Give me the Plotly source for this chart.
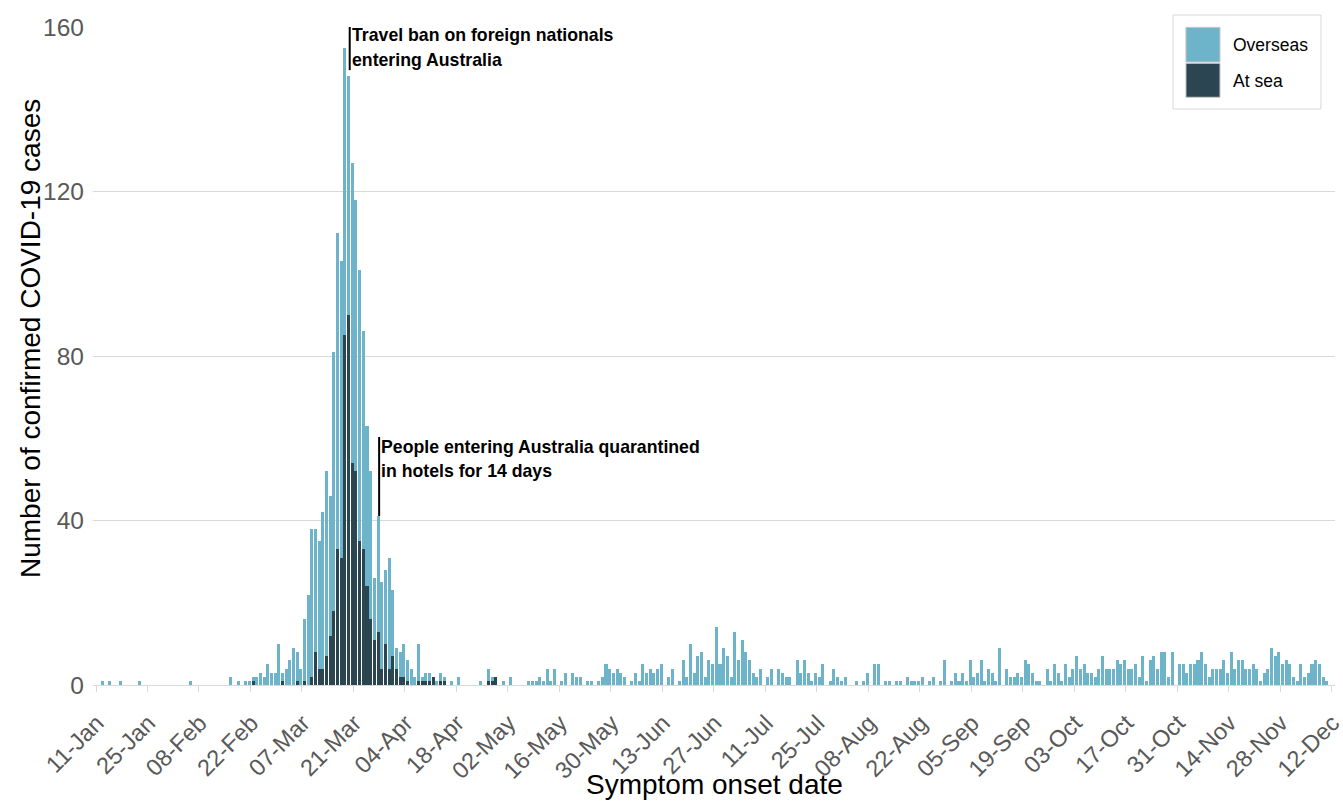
import pandas as pd
import plotly.graph_objects as go

# ---------------- data ----------------
start_date = "2020-01-11"

# Daily confirmed cases, symptom onset 11-Jan .. 11-Dec 2020 (14 days per row)
overseas = [
    0, 0, 1, 0, 1, 0, 0, 1, 0, 0, 0, 0, 1, 0,
    0, 0, 0, 0, 0, 0, 0, 0, 0, 0, 0, 0, 1, 0,
    0, 0, 0, 0, 0, 0, 0, 0, 0, 2, 0, 1, 0, 1,
    1, 1, 2, 3, 2, 5, 3, 3, 10, 2, 4, 6, 9, 7,
    4, 15, 22, 36, 30, 31, 38, 45, 34, 63, 77, 72, 70, 58,
    73, 66, 66, 53, 39, 36, 15, 28, 21, 18, 27, 16, 5, 6,
    8, 5, 4, 2, 9, 1, 2, 2, 0, 1, 2, 1, 0, 1,
    0, 2, 0, 0, 0, 0, 0, 1, 0, 3, 1, 0, 0, 1,
    0, 2, 0, 0, 0, 0, 1, 1, 1, 2, 1, 4, 1, 4,
    0, 1, 3, 0, 3, 2, 2, 0, 1, 1, 0, 1, 2, 5,
    4, 3, 4, 3, 2, 0, 1, 3, 1, 5, 3, 4, 3, 4,
    5, 0, 2, 4, 0, 1, 6, 2, 10, 3, 7, 8, 2, 6,
    5, 14, 5, 9, 7, 2, 13, 6, 11, 8, 6, 3, 2, 4,
    0, 2, 4, 0, 4, 3, 2, 2, 0, 6, 3, 6, 3, 1,
    3, 2, 5, 0, 1, 4, 2, 1, 2, 0, 0, 1, 0, 1,
    3, 0, 5, 5, 0, 1, 1, 0, 1, 1, 0, 2, 1, 1,
    1, 2, 0, 1, 2, 0, 1, 6, 0, 1, 3, 1, 3, 1,
    6, 2, 3, 6, 1, 4, 3, 1, 9, 0, 4, 2, 2, 3,
    2, 6, 5, 3, 1, 1, 0, 4, 1, 5, 3, 1, 5, 2,
    4, 7, 4, 5, 3, 3, 2, 4, 7, 4, 4, 4, 6, 5,
    6, 4, 4, 5, 2, 7, 1, 6, 7, 4, 8, 8, 2, 8,
    0, 5, 5, 3, 5, 5, 6, 8, 5, 2, 4, 4, 4, 6,
    3, 8, 4, 6, 6, 4, 4, 5, 4, 1, 3, 4, 9, 7,
    8, 5, 6, 5, 2, 1, 5, 2, 3, 5, 6, 5, 2, 1,
]

at_sea = [
    0, 0, 0, 0, 0, 0, 0, 0, 0, 0, 0, 0, 0, 0,
    0, 0, 0, 0, 0, 0, 0, 0, 0, 0, 0, 0, 0, 0,
    0, 0, 0, 0, 0, 0, 0, 0, 0, 0, 0, 0, 0, 0,
    0, 1, 0, 0, 0, 0, 0, 0, 0, 1, 0, 0, 0, 1,
    0, 1, 0, 2, 8, 4, 4, 7, 12, 18, 33, 31, 85, 90,
    54, 52, 35, 33, 24, 16, 11, 13, 4, 10, 4, 7, 4, 2,
    2, 1, 0, 0, 1, 1, 1, 1, 2, 0, 1, 1, 0, 0,
    0, 0, 0, 0, 0, 0, 0, 0, 0, 1, 1, 2, 0, 0,
    0, 0, 0, 0, 0, 0, 0, 0, 0, 0, 0, 0, 0, 0,
    0, 0, 0, 0, 0, 0, 0, 0, 0, 0, 0, 0, 0, 0,
    0, 0, 0, 0, 0, 0, 0, 0, 0, 0, 0, 0, 0, 0,
    0, 0, 0, 0, 0, 0, 0, 0, 0, 0, 0, 0, 0, 0,
    0, 0, 0, 0, 0, 0, 0, 0, 0, 0, 0, 0, 0, 0,
    0, 0, 0, 0, 0, 0, 0, 0, 0, 0, 0, 0, 0, 0,
    0, 0, 0, 0, 0, 0, 0, 0, 0, 0, 0, 0, 0, 0,
    0, 0, 0, 0, 0, 0, 0, 0, 0, 0, 0, 0, 0, 0,
    0, 0, 0, 0, 0, 0, 0, 0, 0, 0, 0, 0, 0, 0,
    0, 0, 0, 0, 0, 0, 0, 0, 0, 0, 0, 0, 0, 0,
    0, 0, 0, 0, 0, 0, 0, 0, 0, 0, 0, 0, 0, 0,
    0, 0, 0, 0, 0, 0, 0, 0, 0, 0, 0, 0, 0, 0,
    0, 0, 0, 0, 0, 0, 0, 0, 0, 0, 0, 0, 0, 0,
    0, 0, 0, 0, 0, 0, 0, 0, 0, 0, 0, 0, 0, 0,
    0, 0, 0, 0, 0, 0, 0, 0, 0, 0, 0, 0, 0, 0,
    0, 0, 0, 0, 0, 0, 0, 0, 0, 0, 0, 0, 0, 0,
]

y_ticks = [0, 40, 80, 120, 160]

event_dates = ["2020-03-20", "2020-03-28"]
event_lines = [
    ["Travel ban on foreign nationals", "entering Australia"],
    ["People entering Australia quarantined", "in hotels for 14 days"],
]
event_spans = [(149.5, 160), (41.1, 60.3)]
event_text_y = [(158.1, 152.0), (57.9, 52.0)]

series_names = ["Overseas", "At sea"]
x_title = "Symptom onset date"
y_title = "Number of confirmed COVID-19 cases"

# ---------------- style ----------------
C_OVERSEAS = "#6db3c9"
C_ATSEA = "#2b4651"
GRID = "#d9d9d9"
TICK_C = "#595959"
FONT = "Liberation Sans, Arial, sans-serif"
DAY = 86400000
BAR_W = 0.82 * DAY

dates = pd.date_range(start_date, periods=len(overseas), freq="D")

fig = go.Figure()
bar_style = dict(width=BAR_W, offset=-0.3 * DAY - BAR_W / 2,
                 marker_line_width=0, hoverinfo="x+y+name")
fig.add_trace(go.Bar(x=dates, y=at_sea, name=series_names[1],
                     marker_color=C_ATSEA, **bar_style))
fig.add_trace(go.Bar(x=dates, y=overseas, name=series_names[0],
                     marker_color=C_OVERSEAS, **bar_style))

fig.update_layout(
    width=1343, height=801,
    margin=dict(l=93, r=8, t=27, b=116, autoexpand=False),
    plot_bgcolor="white", paper_bgcolor="white",
    barmode="stack", bargap=0, showlegend=False,
    font=dict(family=FONT, color="black"),
)

fig.update_xaxes(
    type="date", automargin=False,
    range=["2020-01-10 04:25", "2020-12-12 23:00"],
    tickmode="linear", tick0=start_date, dtick=14 * DAY,
    tickformat="%d-%b", tickangle=-45,
    tickfont=dict(size=23.5, color=TICK_C, family=FONT),
    ticklabeloverflow="allow", ticklabelshift=1, ticklabelstandoff=8,
    ticks="outside", ticklen=6, tickcolor=GRID, tickwidth=1,
    showline=True, linecolor=GRID, linewidth=1,
    showgrid=False, zeroline=False,
)
fig.update_yaxes(
    automargin=False,
    range=[0, 160], tickmode="array", tickvals=y_ticks,
    showgrid=True, gridcolor=GRID, gridwidth=1, zeroline=False,
    showline=False, ticks="",
    tickfont=dict(size=24.5, color=TICK_C, family=FONT),
    ticklabelstandoff=8,
)

# axis titles
fig.add_annotation(x=0.5, y=0, xref="paper", yref="paper", yshift=-99,
                   text=x_title, showarrow=False, xanchor="center", yanchor="middle",
                   font=dict(size=28, color="black", family=FONT))
fig.add_annotation(x=0, y=0.5258, xref="paper", yref="paper", xshift=-63,
                   text=y_title, textangle=-90, showarrow=False,
                   xanchor="center", yanchor="middle",
                   font=dict(size=28, color="black", family=FONT))

# event markers
for d, (y0, y1), lines, (ty1, ty2) in zip(event_dates, event_spans, event_lines, event_text_y):
    fig.add_shape(type="line", xref="x", yref="y", x0=d, x1=d, y0=y0, y1=y1,
                  line=dict(color="black", width=2))
    for txt, ty in zip(lines, (ty1, ty2)):
        fig.add_annotation(x=d, y=ty, xref="x", yref="y", text="<b>%s</b>" % txt,
                           showarrow=False, xanchor="left", yanchor="middle",
                           font=dict(size=17.7, color="black", family=FONT))

# legend drawn manually (large swatches)
fig.add_shape(type="rect", xref="paper", yref="paper",
              x0=0.8696, x1=0.9887, y0=0.8754, y1=1.0182,
              line=dict(color=GRID, width=1), fillcolor="white", layer="above")
swatches = [(C_OVERSEAS, 0.9468, 0.9995, 0.9726), (C_ATSEA, 0.8932, 0.9448, 0.9179)]
for name, (col, y0, y1, ty) in zip(series_names, swatches):
    fig.add_shape(type="rect", xref="paper", yref="paper",
                  x0=0.8800, x1=0.9074, y0=y0, y1=y1,
                  line=dict(color="#c8c8c8", width=1), fillcolor=col, layer="above")
    fig.add_annotation(x=0.9163, y=ty, xref="paper", yref="paper", text=name,
                       showarrow=False, xanchor="left", yanchor="middle",
                       font=dict(size=17.5, color="black", family=FONT))

fig.write_html("out.html", config={"displayModeBar": False},
               post_script="document.body.style.margin='0';")
